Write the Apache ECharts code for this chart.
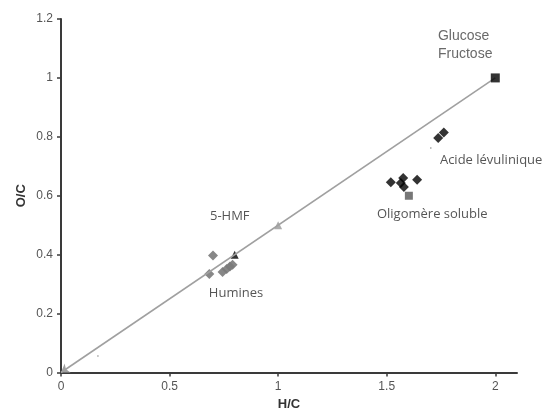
<!DOCTYPE html>
<html>
<head>
<meta charset="utf-8">
<script src="https://cdn.jsdelivr.net/npm/echarts@6/dist/echarts.min.js"></script>
<style>html,body{margin:0;padding:0;background:#fff;}#c{width:547px;height:416px;}</style>
</head>
<body>
<div id="c"></div>
<script>
// Data
const xTicks = [0, 0.5, 1, 1.5, 2];
const yTicks = [0, 0.2, 0.4, 0.6, 0.8, 1, 1.2];
const diagonalLine = [[0, 0], [2, 1]];
const glucoseSquare = [[2, 1]];
const referenceTriangle = [[1.0, 0.5]];
const hmfTriangle = [[0.8, 0.4]];
const huminesDiamonds = [[0.70, 0.397], [0.683, 0.334], [0.744, 0.341], [0.763, 0.351], [0.778, 0.36], [0.79, 0.366]];
const levulinicDiamonds = [[1.737, 0.796], [1.763, 0.815]];
const oligomerDiamonds = [[1.519, 0.646], [1.565, 0.643], [1.576, 0.66], [1.579, 0.63], [1.64, 0.654]];
const oligomerSquare = [[1.602, 0.6]];
const specks = [[0.17, 0.056], [1.703, 0.762]];
const annotationX = [1.736, 1.745, 1.455, 0.686, 0.681];
const annotationY = [1.11, 0.722, 0.537, 0.530, 0.270];
const annotationText = ['Glucose\nFructose', 'Acide lévulinique', 'Oligomère soluble', '5-HMF', 'Humines'];

const arialLabel = {fontFamily: 'Liberation Sans', fontSize: 14, lineHeight: 18, color: '#444'};
const calLabel = {fontFamily: 'Open Sans', fontSize: 13, color: '#2a2a2a'};
const annotationData = annotationText.map((t, i) => ({
  value: [annotationX[i], annotationY[i]],
  name: t,
  label: i === 0 ? arialLabel : calLabel
}));

const chart = echarts.init(document.getElementById('c'), null, {renderer: 'canvas'});
chart.setOption({
  animation: false,
  backgroundColor: '#fff',
  grid: {left: 61, right: 30, top: 19, bottom: 43.5},
  xAxis: {
    type: 'value', min: 0, max: 2.1,
    name: 'H/C', nameLocation: 'middle', nameGap: 25, nameMoveOverlap: false,
    nameTextStyle: {fontFamily: 'Liberation Sans', fontWeight: 'bold', fontSize: 13, color: '#333'},
    axisLine: {show: true, lineStyle: {color: '#3a3a3a', width: 2}},
    axisTick: {show: true, length: 4, lineStyle: {color: '#3a3a3a', width: 1.5}, customValues: xTicks},
    axisLabel: {fontFamily: 'Liberation Sans', fontSize: 12, color: '#555', margin: 8, customValues: xTicks},
    splitLine: {show: false}
  },
  yAxis: {
    type: 'value', min: 0, max: 1.2, interval: 0.2,
    name: 'O/C', nameLocation: 'middle', nameGap: 33, nameMoveOverlap: false,
    nameTextStyle: {fontFamily: 'Liberation Sans', fontWeight: 'bold', fontSize: 13, color: '#333'},
    axisLine: {show: true, lineStyle: {color: '#3a3a3a', width: 2}},
    axisTick: {show: true, length: 4, lineStyle: {color: '#3a3a3a', width: 1.5}},
    axisLabel: {fontFamily: 'Liberation Sans', fontSize: 12, color: '#555', margin: 8, customValues: yTicks},
    splitLine: {show: false}
  },
  series: [
    {
      type: 'lines', coordinateSystem: 'cartesian2d', silent: true, z: 4,
      symbol: ['arrow', 'none'], symbolSize: [8, 12],
      lineStyle: {color: '#a0a0a0', width: 1.6, opacity: 1, curveness: 0},
      data: [{coords: diagonalLine}]
    },
    {type: 'scatter', z: 3, data: referenceTriangle, symbol: 'triangle', symbolSize: 8, itemStyle: {color: '#999'}},
    {type: 'scatter', z: 3, data: huminesDiamonds, symbol: 'diamond', symbolSize: 10, itemStyle: {color: '#7a7a7a', opacity: 0.9}},
    {type: 'scatter', z: 3, data: hmfTriangle, symbol: 'triangle', symbolSize: 8, itemStyle: {color: '#000'}},
    {type: 'scatter', z: 5, data: glucoseSquare, symbol: 'rect', symbolSize: 9, itemStyle: {color: '#000'}},
    {type: 'scatter', z: 3, data: levulinicDiamonds, symbol: 'diamond', symbolSize: 10, itemStyle: {color: '#000'}},
    {type: 'scatter', z: 3, data: oligomerDiamonds, symbol: 'diamond', symbolSize: 10, itemStyle: {color: '#000'}},
    {type: 'scatter', z: 3, data: oligomerSquare, symbol: 'rect', symbolSize: 8, itemStyle: {color: '#555'}},
    {type: 'scatter', z: 3, data: specks, symbol: 'circle', symbolSize: 1.5, itemStyle: {color: '#666'}},
    {
      type: 'scatter', z: 3, data: annotationData, symbolSize: 0, silent: true,
      label: {
        show: true, position: [0, 0], align: 'left', verticalAlign: 'middle',
        formatter: p => p.name
      },
      labelLayout: {hideOverlap: false}
    }
  ]
});
</script>
</body>
</html>
